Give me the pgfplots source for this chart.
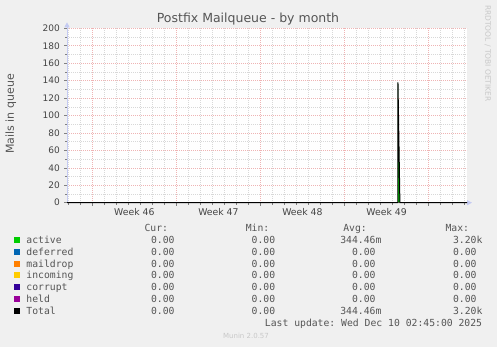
\documentclass[border=0pt]{standalone}
\usepackage{fontspec}
\setmainfont{DejaVu Sans}
\setmonofont{DejaVu Sans Mono}
\usepackage{pgfplots}
\pgfplotsset{compat=1.18}
\usetikzlibrary{arrows.meta}
\definecolor{bgc}{HTML}{F0F0F0}
\definecolor{txt}{HTML}{555555}
\definecolor{tick}{HTML}{444444}
\definecolor{faint}{HTML}{C8C8C8}
\definecolor{mgrid}{HTML}{EFB4B4}
\definecolor{ngrid}{HTML}{D8D8D8}
\definecolor{axc}{HTML}{C4CAF2}
\definecolor{cactive}{HTML}{00CC00}
\definecolor{cdeferred}{HTML}{0066B3}
\definecolor{cmaildrop}{HTML}{FF8000}
\definecolor{cincoming}{HTML}{FFCC00}
\definecolor{ccorrupt}{HTML}{330099}
\definecolor{cheld}{HTML}{990099}
\definecolor{ctotal}{HTML}{000000}
\newcommand{\lgf}{\fontsize{9.75bp}{11bp}\selectfont\ttfamily\color{txt}}
\begin{document}
\begin{tikzpicture}[x=1bp,y=1bp]
\path[use as bounding box] (0,0) rectangle (497,347);
\fill[bgc] (0,0) rectangle (497,347);
\begin{axis}[
  at={(67bp,144.3bp)}, anchor=south west,
  scale only axis, width=400bp, height=174.4bp,
  xmin=0, xmax=33.333, ymin=0, ymax=200,
  clip=false,
  axis background/.style={fill=white},
  axis x line=bottom, axis y line=left,
  x axis line style={draw=axc, line width=0.8bp, shorten >=-5bp, -{Triangle[length=5bp,width=5bp]}},
  y axis line style={draw=axc, line width=0.8bp, shorten >=-6bp, -{Triangle[length=5bp,width=5bp]}},
  xtick={2.11,9.12,16.12,23.13,30.14},
  xticklabels={},
  minor xtick={0.11,1.11,...,33.2},
  extra x ticks={5.61,12.62,19.62,26.63},
  extra x tick labels={Week 46,Week 47,Week 48,Week 49},
  extra x tick style={grid=none, major tick length=0pt},
  ytick={0,20,...,200},
  minor ytick={10,30,...,190},
  grid=both,
  major grid style={color=mgrid, line width=0.5bp, dash pattern=on 1bp off 1bp},
  minor grid style={color=ngrid, line width=0.5bp, dash pattern=on 1bp off 1bp},
  tick align=outside,
  major tick length=3bp, minor tick length=2bp,
  every tick/.style={color=gray, line width=0.5bp},
  /pgf/number format/assume math mode=true,
  yticklabel style={font=\fontsize{9bp}{10bp}\selectfont, text=tick, inner sep=0pt, anchor=east, xshift=-4bp},
  xticklabel style={font=\fontsize{9.3bp}{10bp}\selectfont, text=tick, inner sep=0pt, anchor=north, yshift=-5.5bp},
]
% active (area)
\addplot[fill=cactive, draw=none] coordinates {(0,0) (27.57,0) (27.58,138) (27.74,0) (33.333,0)} \closedcycle;
% deferred, maildrop, incoming, corrupt, held (all zero)
\addplot[fill=cdeferred, draw=none] coordinates {(0,0) (33.333,0)} \closedcycle;
\addplot[fill=cmaildrop, draw=none] coordinates {(0,0) (33.333,0)} \closedcycle;
\addplot[fill=cincoming, draw=none] coordinates {(0,0) (33.333,0)} \closedcycle;
\addplot[fill=ccorrupt, draw=none] coordinates {(0,0) (33.333,0)} \closedcycle;
\addplot[fill=cheld, draw=none] coordinates {(0,0) (33.333,0)} \closedcycle;
% Total (line)
\addplot[color=ctotal, line width=1bp] coordinates {(0,0) (27.57,0) (27.58,138) (27.74,0) (33.333,0)};
\end{axis}
% title and side texts
\node[font=\fontsize{12.5bp}{14bp}\selectfont, text=txt] at (248,327.5) {Postfix Mailqueue - by month};
\node[font=\fontsize{11bp}{12bp}\selectfont, text=txt, rotate=90] at (10.8,233) {Mails in queue};
\node[font=\fontsize{7.5bp}{8bp}\selectfont, text=faint, rotate=-90] at (487.7,293.7) {RRDTOOL / TOBI OETIKER};
\node[font=\fontsize{7bp}{8bp}\selectfont, text=faint] at (246,11) {Munin 2.0.57};
% legend headers
\node[anchor=base east, inner sep=0pt, font=\lgf] at (168.3,115.8) {Cur:};
\node[anchor=base east, inner sep=0pt, font=\lgf] at (269.5,115.8) {Min:};
\node[anchor=base east, inner sep=0pt, font=\lgf] at (367,115.8) {Avg:};
\node[anchor=base east, inner sep=0pt, font=\lgf] at (469.3,115.8) {Max:};
% legend rows
\foreach \name/\col/\avg/\asuf/\mx/\msuf [count=\i from 0] in {active/cactive/344.46/m/3.20/k, deferred/cdeferred/0.00//0.00/, maildrop/cmaildrop/0.00//0.00/, incoming/cincoming/0.00//0.00/, corrupt/ccorrupt/0.00//0.00/, held/cheld/0.00//0.00/, Total/ctotal/344.46/m/3.20/k}{
  \pgfmathsetmacro{\ry}{107.3-11.93*\i}
  \fill[\col] (14,\ry-3) rectangle (20,\ry+3);
  \node[anchor=base west, inner sep=0pt, font=\lgf] at (26.3,\ry-3.5) {\name};
  \node[anchor=base east, inner sep=0pt, font=\lgf] at (174.7,\ry-3.5) {0.00};
  \node[anchor=base east, inner sep=0pt, font=\lgf] at (275.4,\ry-3.5) {0.00};
  \node[anchor=base east, inner sep=0pt, font=\lgf] at (375.7,\ry-3.5) {\avg\rlap{\asuf}};
  \node[anchor=base east, inner sep=0pt, font=\lgf] at (476.7,\ry-3.5) {\mx\rlap{\msuf}};
}
\node[anchor=base east, inner sep=0pt, font=\lgf] at (482.3,20.2) {Last update: Wed Dec 10 02:45:00 2025};
\end{tikzpicture}
\end{document}
